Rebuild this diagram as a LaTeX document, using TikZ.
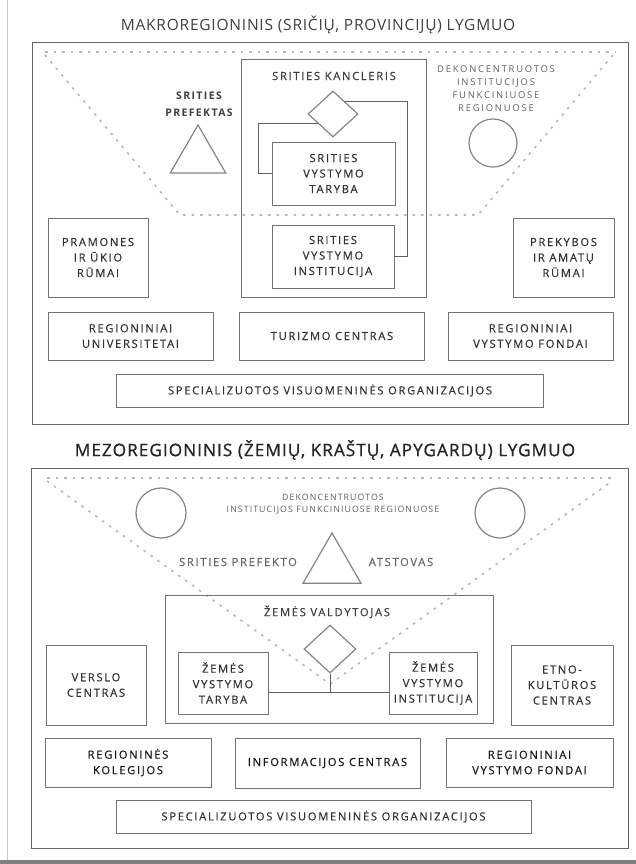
\documentclass[tikz,border=0pt]{standalone}
\usepackage{fontspec}
\setmainfont{Open Sans}
\newfontfamily\lsfont[LetterSpace=15, FakeBold=0.4]{Open Sans}
\newfontfamily\smfont[LetterSpace=19]{Open Sans}
\newfontfamily\smbfont[LetterSpace=12]{Open Sans}
\newfontfamily\pfont[LetterSpace=13]{Open Sans}
\newfontfamily\ttlfont[LetterSpace=5]{Open Sans}
\newfontfamily\ttlbfont[LetterSpace=6, FakeBold=1]{Open Sans}
\usetikzlibrary{shapes.geometric,calc}
\tikzset{
  frame/.style={draw=black!60, line width=0.9pt},
  bx/.style={draw=black!55, line width=0.9pt, inner sep=0pt, align=center,
    font=\lsfont\fontsize{11.2}{15.5}\selectfont, text=black!80},
  smalltxt/.style={align=center, inner sep=0pt, font=\smfont\fontsize{9.4}{13}\selectfont, text=black!62},
  lbl/.style={align=center, inner sep=0pt, font=\lsfont\fontsize{11.2}{15.5}\selectfont, text=black!75},
  ttl/.style={inner sep=0pt},
  dotl/.style={draw=black!28, line width=1.6pt, dash pattern=on 2.5pt off 6pt},
  shp/.style={draw=black!48, line width=1.2pt, inner sep=0pt},
  conn/.style={draw=black!62, line width=0.9pt},
}
\begin{document}
\begin{tikzpicture}[x=1pt,y=-1pt]
\useasboundingbox (0,0) rectangle (636,864);
\fill[white] (0,0) rectangle (636,864);
% scan artefacts
\draw[black!22, line width=1pt] (7,0) -- (7,864);
\fill[black!50] (0,860) rectangle (636,864);

%%%%%%%%%%%%%%%% TOP SECTION %%%%%%%%%%%%%%%%
\node[ttl, font=\ttlfont\fontsize{15.5}{17}\selectfont, text=black!75] (t1) at (318,25) {MAKROREGIONINIS (SRIČIŲ, PROVINCIJŲ) LYGMUO};
\draw[frame] (32,42) rectangle (628,424);

% dotted trapezoid
\draw[dotl] (45,52) -- (615,52);
\draw[dotl] (45,55) -- (180,215) -- (478,215) -- (613,55);

% central column
\node[draw=black!55, line width=0.9pt, minimum width=185, minimum height=238, inner sep=0pt] (kbox) at (333.5,178) {};
\node[lbl] (kanc) at (334,76) {SRITIES KANCLERIS};
\node[shp, diamond, minimum width=50, minimum height=46] (dia) at (333,114) {};
\node[bx, minimum width=123, minimum height=63] (tar) at (333.5,173.5) {SRITIES\\VYSTYMO\\TARYBA};
\node[bx, minimum width=122, minimum height=63] (inst) at (333,256.5) {SRITIES\\VYSTYMO\\INSTITUCIJA};
\coordinate (lc) at (258,0);
\coordinate (rc) at (407,0);
\coordinate (dl) at ($(dia.west)!0.4!(dia.south)$);
\coordinate (dr) at ($(dia.north)!0.45!(dia.east)$);
\draw[conn] (dl) -- (dl -| lc) |- (tar.west);
\draw[conn] (dr) -- (dr -| rc) |- (inst.east);

% prefektas
\node[align=center, inner sep=0pt, font=\pfont\bfseries\fontsize{10.5}{17}\selectfont, text=black!75] (preft) at (199,104) {SRITIES\\PREFEKTAS};
\node[shp, regular polygon, regular polygon sides=3, minimum size=64] (pref) at (198,157) {};

% dekoncentruotos
\node[smalltxt] (dek1) at (496,89) {DEKONCENTRUOTOS\\INSTITUCIJOS\\FUNKCINIUOSE\\REGIONUOSE};
\node[shp, circle, minimum size=48] (circ1) at (493,143) {};

% side boxes
\node[bx, minimum width=100, minimum height=79] (pram) at (98,257.5) {PRAMONES\\IR ŪKIO\\RŪMAI};
\node[bx, minimum width=101, minimum height=79] (prek) at (563.5,257.5) {PREKYBOS\\IR AMATŲ\\RŪMAI};

% row
\node[bx, minimum width=165, minimum height=48] (univ) at (130.5,336) {REGIONINIAI\\UNIVERSITETAI};
\node[bx, minimum width=185, minimum height=48] (tur) at (332,336) {TURIZMO CENTRAS};
\node[bx, minimum width=165, minimum height=48] (fond1) at (530.5,336) {REGIONINIAI\\VYSTYMO FONDAI};
\node[bx, minimum width=427, minimum height=33] (spec1) at (330,390.5) {SPECIALIZUOTOS VISUOMENINĖS ORGANIZACIJOS};

%%%%%%%%%%%%%%%% BOTTOM SECTION %%%%%%%%%%%%%%%%
\node[ttl, font=\ttlbfont\fontsize{17.2}{19}\selectfont, text=black!85] (t2) at (325,450) {MEZOREGIONINIS (ŽEMIŲ, KRAŠTŲ, APYGARDŲ) LYGMUO};
\draw[frame] (31,468) rectangle (628,848);

\draw[dotl] (47,478) -- (612,478);
\draw[dotl] (47,481) -- (330,684) -- (612,481);

\node[shp, circle, minimum size=50] (circ2) at (161,513) {};
\node[shp, circle, minimum size=50] (circ3) at (500,513) {};
\node[align=center, inner sep=0pt, font=\smbfont\fontsize{8.8}{12.5}\selectfont, text=black!62] (dek2) at (333,504) {DEKONCENTRUOTOS\\INSTITUCIJOS FUNKCINIUOSE REGIONUOSE};
\node[shp, regular polygon, regular polygon sides=3, minimum size=67] (pref2) at (332,566.5) {};
\node[lbl, text=black!60] (sp) at (238,562) {SRITIES PREFEKTO};
\node[lbl, text=black!60] (ats) at (401,562) {ATSTOVAS};

\node[draw=black!55, line width=0.9pt, minimum width=328, minimum height=128, inner sep=0pt] (zbox) at (329,659) {};
\node[lbl] (zval) at (327,612) {ŽEMĖS VALDYTOJAS};
\node[shp, diamond, minimum width=52, minimum height=48] (dia2) at (330,649) {};
\node[bx, minimum width=90, minimum height=62] (tar2) at (223,683) {ŽEMĖS\\VYSTYMO\\TARYBA};
\node[bx, minimum width=88, minimum height=62] (inst2) at (433,683) {ŽEMĖS\\VYSTYMO\\INSTITUCIJA};
\coordinate (hl) at ($(tar2.north east)!0.65!(tar2.south east)$);
\draw[conn] (hl) -- (hl -| inst2.west);
\draw[conn] (dia2.south) -- (dia2.south |- hl);

\node[bx, minimum width=100, minimum height=80] (vers) at (96,685) {VERSLO\\CENTRAS};
\node[bx, minimum width=102, minimum height=80] (etno) at (562,685) {ETNO-\\KULTŪROS\\CENTRAS};

\node[bx, text=black!90, minimum width=166, minimum height=49] (kol) at (128,762.5) {REGIONINĖS\\KOLEGIJOS};
\node[bx, text=black!90, minimum width=185, minimum height=50] (info) at (327.5,763) {INFORMACIJOS CENTRAS};
\node[bx, text=black!90, minimum width=167, minimum height=49] (fond2) at (529.5,762.5) {REGIONINIAI\\VYSTYMO FONDAI};
\node[bx, minimum width=415, minimum height=33] (spec2) at (323.5,816.5) {SPECIALIZUOTOS VISUOMENINĖS ORGANIZACIJOS};
\end{tikzpicture}
\end{document}
